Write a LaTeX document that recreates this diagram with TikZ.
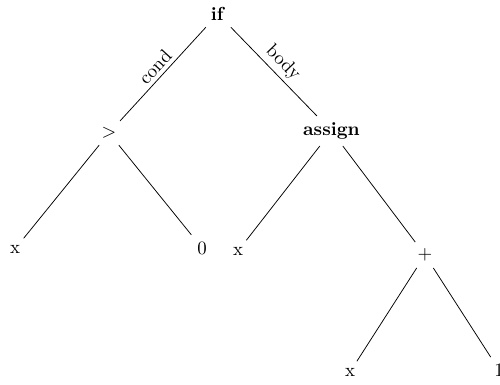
\documentclass[tikz,border=0pt]{standalone}
\begin{document}
\begin{tikzpicture}[x=0.53pt,y=-0.53pt,
  tn/.style={inner sep=3.33pt},
  edge/.style={draw=black, line width=0.4pt},
  lbl/.style={midway, sloped, above, inner sep=2pt}]
\useasboundingbox (0,0) rectangle (500,384);
\node[tn] (if) at (218,14) {\textbf{if}};
\node[tn] (gt) at (109,133) {$>$};
\node[tn] (asg) at (331.5,131) {\textbf{assign}};
\node[tn] (x1) at (15,249) {x};
\node[tn] (z) at (202,248) {0};
\node[tn] (x2) at (238,251) {x};
\node[tn] (pl) at (425,255) {$+$};
\node[tn] (x3) at (350,372) {x};
\node[tn] (one) at (499,370) {1};
\draw[edge] (gt) -- node[lbl]{cond} (if);
\draw[edge] (if) -- node[lbl]{body} (asg);
\draw[edge] (gt) -- (x1);
\draw[edge] (gt) -- (z);
\draw[edge] (asg) -- (x2);
\draw[edge] (asg) -- (pl);
\draw[edge] (pl) -- (x3);
\draw[edge] (pl) -- (one);
\end{tikzpicture}
\end{document}
